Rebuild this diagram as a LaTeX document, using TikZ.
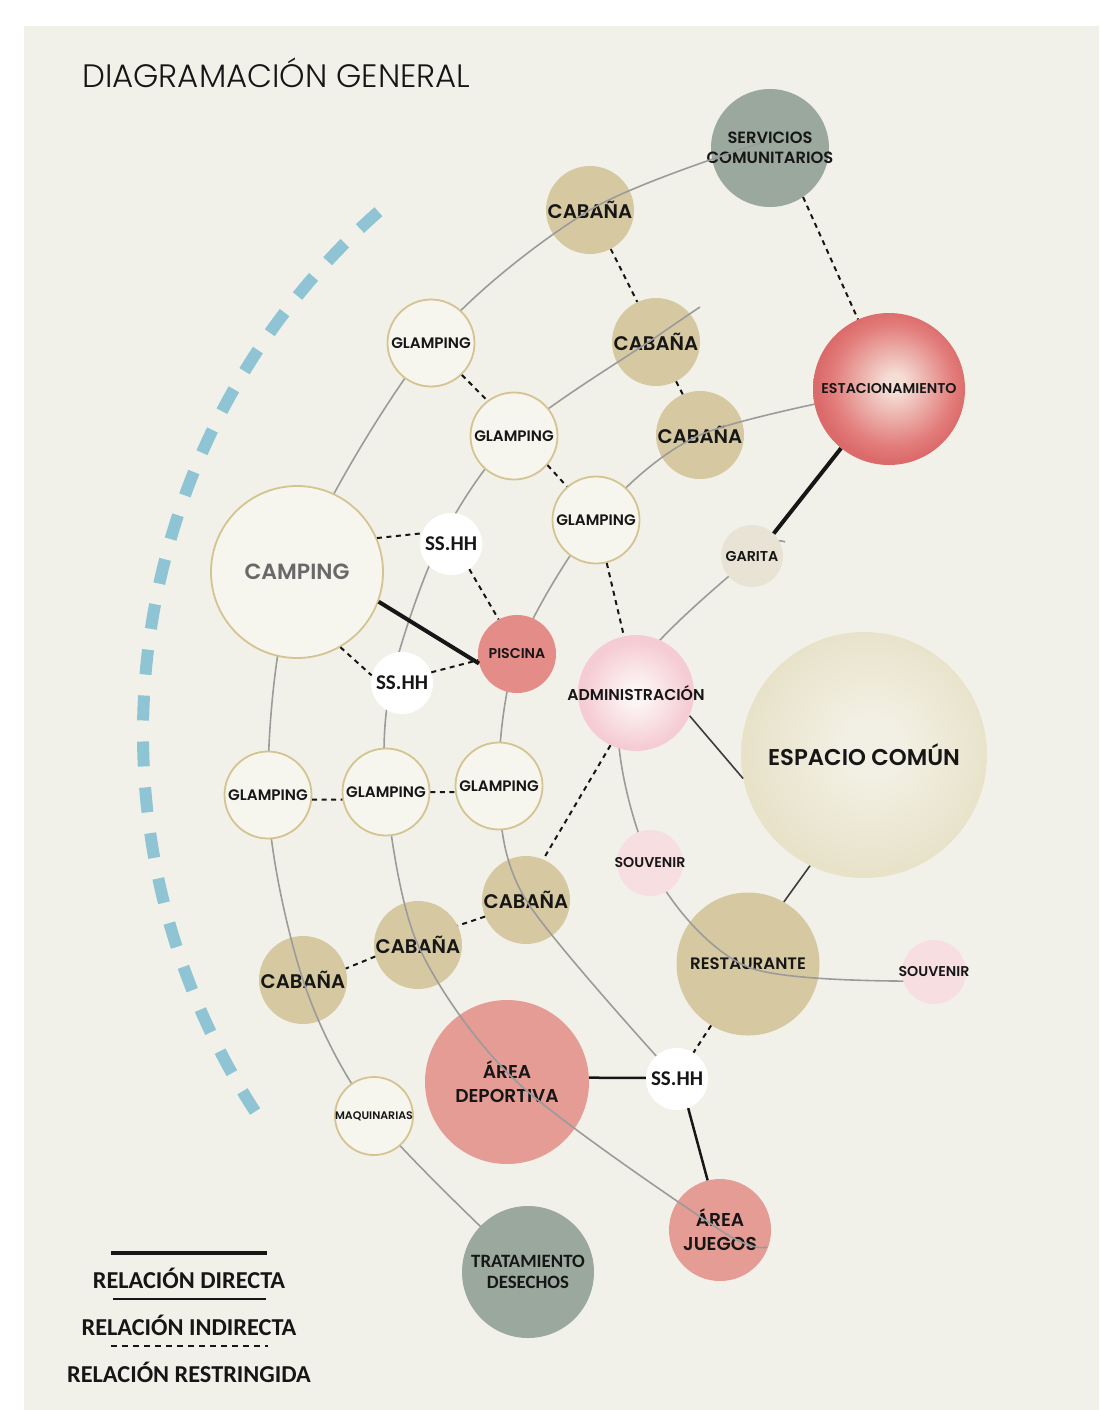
\documentclass[tikz,border=0pt]{standalone}
\usepackage{fontspec}
\IfFontExistsTF{Poppins SemiBold}
  {\setmainfont{Poppins}[BoldFont={Poppins SemiBold}]}
  {\setmainfont{Poppins}}
\IfFontExistsTF{Poppins Light}
  {\newfontfamily\titlefont{Poppins Light}}
  {\newfontfamily\titlefont{Poppins}}
\newfontfamily\narrowfont{Carlito}
\usepackage{tikz}
\newcommand\zerowd[1]{\makebox[0pt]{#1}}
\definecolor{PageCream}{RGB}{242,241,233}
\definecolor{CabinTan}{RGB}{214,201,161}
\definecolor{GlampFill}{RGB}{246,245,238}
\definecolor{GlampEdge}{RGB}{212,196,146}
\definecolor{SageGray}{RGB}{155,168,158}
\definecolor{PoolRed}{RGB}{228,140,135}
\definecolor{SportRed}{RGB}{229,156,149}
\definecolor{SouvPink}{RGB}{247,222,225}
\definecolor{GateBeige}{RGB}{232,227,213}
\definecolor{LakeBlue}{RGB}{143,196,212}
\definecolor{ArcGray}{RGB}{155,155,155}
\definecolor{InkBlack}{RGB}{22,22,22}
\definecolor{InkDark}{RGB}{60,60,60}
\definecolor{CampGray}{RGB}{105,105,105}
\definecolor{EstIn}{RGB}{245,222,214}
\definecolor{EstOut}{RGB}{226,124,122}
\definecolor{EstEdge}{RGB}{219,106,106}
\definecolor{AdmIn}{RGB}{252,244,245}
\definecolor{AdmOut}{RGB}{245,204,211}
\definecolor{EspIn}{RGB}{242,240,228}
\definecolor{EspOut}{RGB}{232,226,201}
\pgfdeclareradialshading{estacglow}{\pgfpoint{2bp}{2bp}}
  {color(0bp)=(EstIn); color(3bp)=(EstIn); color(20bp)=(EstOut); color(25bp)=(EstEdge); color(50bp)=(EstEdge)}
\pgfdeclareradialshading{admglow}{\pgfpoint{0bp}{-1bp}}
  {color(0bp)=(AdmIn); color(4bp)=(AdmIn); color(23bp)=(AdmOut); color(50bp)=(AdmOut)}
\pgfdeclareradialshading{espglow}{\pgfpoint{2bp}{2bp}}
  {color(0bp)=(EspIn); color(6bp)=(EspIn); color(25bp)=(EspOut); color(50bp)=(EspOut)}
\pgfdeclarelayer{under}
\pgfdeclarelayer{arcs}
\pgfsetlayers{under,arcs,main}
\tikzset{
  cabin/.style   ={circle, fill=CabinTan, minimum size=88pt, inner sep=0pt,
                   text=InkBlack, font=\fontsize{19.7}{19.7}\selectfont\bfseries},
  glamp/.style   ={circle, draw=GlampEdge, line width=1.8pt, fill=GlampFill,
                   minimum size=87pt, inner sep=0pt, text=InkBlack,
                   font=\fontsize{15.2}{15.2}\selectfont\bfseries},
  wc/.style      ={circle, fill=white, minimum size=62pt, inner sep=0pt,
                   text=InkBlack, font=\narrowfont\fontsize{21}{21}\selectfont\bfseries},
  souv/.style    ={circle, fill=SouvPink, minimum size=66pt, inner sep=0pt,
                   text=InkBlack, font=\fontsize{14.2}{14.2}\selectfont\bfseries},
  sport/.style   ={circle, fill=SportRed, inner sep=0pt, align=center,
                   text=InkBlack, font=\fontsize{18.6}{24}\selectfont\bfseries},
  sage/.style    ={circle, fill=SageGray, inner sep=0pt, align=center, text=InkBlack},
  glow/.style    ={circle, shade, shading=#1, inner sep=0pt, text=InkBlack},
  arcline/.style ={draw=ArcGray, line width=1.6pt},
  reldir/.style  ={draw=InkBlack, line width=4pt},
  relind/.style  ={draw=InkDark, line width=1.6pt},
  relres/.style  ={draw=InkBlack, line width=2pt, dash pattern=on 5pt off 4.5pt},
  legtxt/.style  ={inner sep=0pt, text=InkBlack,
                   font=\narrowfont\fontsize{24.3}{24.3}\selectfont\bfseries},
  bluedash/.style={draw=LakeBlue, line width=12pt, dash pattern=on 25pt off 21pt},
}

\begin{document}
\begin{tikzpicture}[x=1pt,y=-1pt]
  \useasboundingbox (0,0) rectangle (1101,1410);

  \begin{pgfonlayer}{under}
    \fill[white] (0,0) rectangle (1101,1410);
    \fill[PageCream] (24,26) rectangle (1099,1410);
    \draw[bluedash] (838,733) ++(228.6:695) arc[start angle=228.6, end angle=147, radius=695];
    % zones the gray lines run across
    \node[cabin] (cab1) at (590,210) {CABAÑA};
    \node[cabin] (cab2) at (656,342) {CABAÑA};
    \node[cabin] (cab3) at (700,435) {CABAÑA};
    \node[cabin] (cabF) at (526,900) {CABAÑA};
    \node[cabin] (cabE) at (418,945) {CABAÑA};
    \node[cabin] (cabD) at (303,980) {CABAÑA};
    \node[cabin, minimum size=143pt, font=\fontsize{16.6}{16.6}\selectfont\bfseries] (rest) at (748,964) {RESTAURANTE};
    \node[sport, minimum size=164pt] (dep) at (507,1082) {ÁREA\\DEPORTIVA};
    \node[sport, minimum size=102pt] (jue) at (720,1230) {ÁREA\\JUEGOS};
    \node[sage, minimum size=118pt, font=\fontsize{16.3}{20}\selectfont\bfseries] (serv) at (770,148) {\zerowd{SERVICIOS}\\\zerowd{COMUNITARIOS}};
  \end{pgfonlayer}

  \node[anchor=base west, inner sep=0pt, text=InkBlack,
        font=\titlefont\fontsize{32.4}{32.4}\selectfont] (title) at (82,88) {DIAGRAMACIÓN GENERAL};

  % zones that hide the gray lines
  \node[glamp, minimum size=172pt, text=CampGray, font=\fontsize{22}{22}\selectfont\bfseries] (camp) at (297,572) {CAMPING};
  \node[glamp] (glA) at (431,343) {GLAMPING};
  \node[glamp] (glB) at (514,436) {GLAMPING};
  \node[glamp] (glC) at (596,520) {GLAMPING};
  \node[glamp] (glD) at (268,795) {GLAMPING};
  \node[glamp] (glE) at (386,792) {GLAMPING};
  \node[glamp] (glF) at (499,786) {GLAMPING};
  \node[glamp, minimum size=78pt, font=\fontsize{11}{11}\selectfont\bfseries] (maq) at (374,1116) {\zerowd{MAQUINARIAS}};
  \node[wc] (wc1) at (451,544) {SS.HH};
  \node[wc] (wc2) at (402,683) {SS.HH};
  \node[wc] (wc3) at (677,1079) {SS.HH};
  \node[circle, fill=PoolRed, minimum size=78pt, inner sep=0pt, text=InkBlack,
        font=\fontsize{14.2}{14.2}\selectfont\bfseries] (pisc) at (517,654) {PISCINA};
  \node[glow=admglow, minimum size=116pt, font=\fontsize{15.7}{15.7}\selectfont\bfseries] (adm) at (636,693) {\zerowd{ADMINISTRACIÓN}};
  \node[glow=espglow, minimum size=246pt, font=\fontsize{22.8}{22.8}\selectfont\bfseries] (esp) at (864,755) {ESPACIO COMÚN};
  \node[glow=estacglow, minimum size=152pt, font=\fontsize{14.2}{14.2}\selectfont\bfseries] (estac) at (889,389) {ESTACIONAMIENTO};
  \node[circle, fill=GateBeige, minimum size=62pt, inner sep=0pt, text=InkBlack,
        font=\fontsize{14.3}{14.3}\selectfont\bfseries] (gar) at (752,556) {GARITA};
  \node[souv] (souv1) at (650,863) {\zerowd{SOUVENIR}};
  \node[souv, minimum size=64pt] (souv2) at (934,972) {\zerowd{SOUVENIR}};
  \node[sage, minimum size=132pt, font=\narrowfont\fontsize{18.8}{20.5}\selectfont\bfseries] (trat) at (528,1272) {TRATAMIENTO\\DESECHOS};

  % gray paths
  \begin{pgfonlayer}{arcs}
    \coordinate (bTop) at (700,307);
    \coordinate (bEnd) at (767,1247);
    \coordinate (dTop) at (785,542);
    \draw[arcline] plot[smooth] coordinates {([xshift=-9pt,yshift=5pt]serv.center) (cab1.center) (glA.center) (camp.center) (glD.center) (cabD.center) (maq.center) (trat.center)};
    \draw[arcline] plot[smooth] coordinates {(bTop) ([yshift=5pt]cab2.center) (glB.center) ([xshift=-12pt]wc1.center) ([xshift=-11pt]wc2.center) (glE.center) (cabE.center) ([xshift=10pt]dep.center) (jue.center) (bEnd)};
    \draw[arcline] plot[smooth] coordinates {(estac.center) (cab3.center) (glC.center) (pisc.center) (glF.center) (cabF.center) (wc3.center)};
    \draw[arcline] plot[smooth] coordinates {(dTop) (gar.center) ([xshift=-14pt]adm.center) (souv1.center) ([yshift=-3pt]rest.center) ([yshift=-9pt]souv2.center)};
  \end{pgfonlayer}

  % relations
  \foreach \a/\b in {serv.-56/estac.114, cab1.-62/cab2.115, cab2.-63/cab3.113,
                     glA.-46/glB.127, glB.-41/glC.131, glC.-76/adm.102,
                     camp.23/wc1.160, wc1.-54/pisc.118, camp.-60/wc2.166, wc2.20/pisc.189,
                     glD.-6/glE.190, glE.0/glF.188, adm.244/cabF.67,
                     cabF.202/cabE.26, cabE.195/cabD.15, rest.239/wc3.58}{\draw[relres] (\a) -- (\b);}
  \draw[reldir] (camp.-20) -- (pisc.194);
  \draw[reldir] (estac.231) -- (gar.46);
  \draw[reldir, line width=2.5pt] (dep.3) -- (wc3.178);
  \draw[reldir, line width=2.5pt] (wc3.-69) -- (jue.104);
  \draw[relind] (adm.-23) -- (esp.191);
  \draw[relind] (esp.244) -- (rest.60);

  % legend
  \node[legtxt] (lgDir) at (189,1278) {RELACIÓN DIRECTA};
  \node[legtxt] (lgInd) at (189,1325) {RELACIÓN INDIRECTA};
  \node[legtxt] (lgRes) at (189,1372) {RELACIÓN RESTRINGIDA};
  \draw[reldir] (111,1253) -- (267,1253);
  \draw[relind, draw=InkBlack] (113,1299) -- (266,1299);
  \draw[relres, line width=1.6pt, dash pattern=on 6pt off 5pt] (111,1346) -- (268,1346);
\end{tikzpicture}
\end{document}
